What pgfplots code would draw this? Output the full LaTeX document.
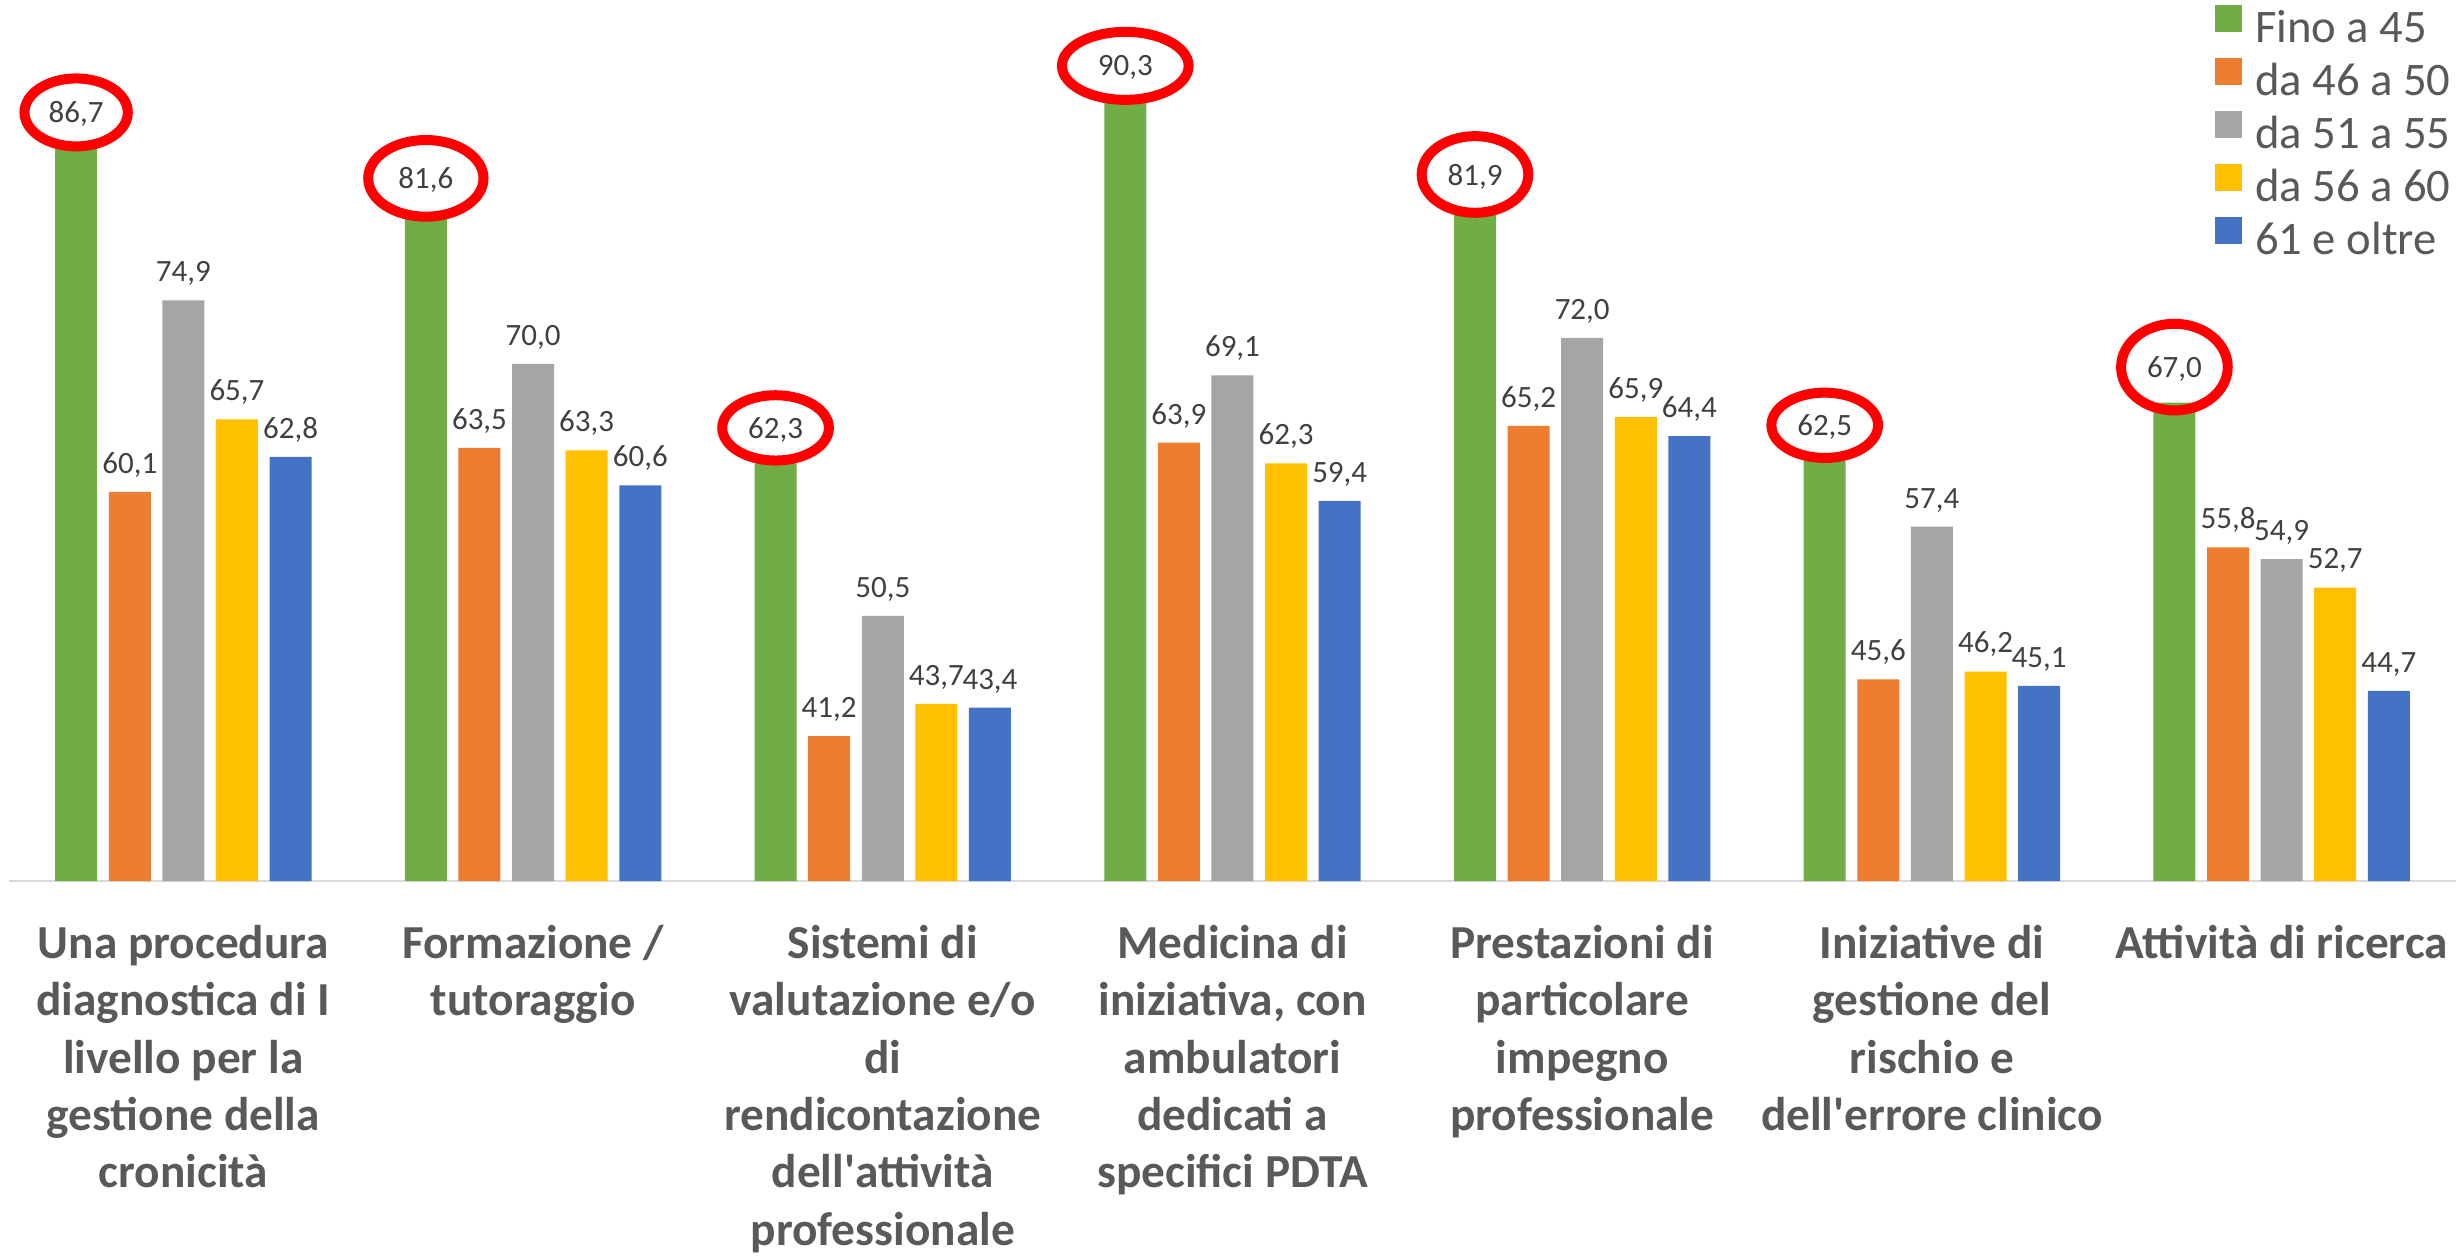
\documentclass[border=0pt]{standalone}
\usepackage{pgfplots}
\pgfplotsset{compat=1.18}
\usepackage{fontspec}
\setmainfont{Carlito}
\usetikzlibrary{shapes.geometric}
\definecolor{cgreen}{HTML}{70AD47}
\definecolor{corange}{HTML}{ED7D31}
\definecolor{cgray}{HTML}{A5A5A5}
\definecolor{cyellow}{HTML}{FFC000}
\definecolor{cblue}{HTML}{4472C4}
\definecolor{txt}{HTML}{595959}
\definecolor{lbl}{HTML}{404040}
\definecolor{axisl}{HTML}{D9D9D9}
\pgfplotstableread{
x y w h
0 86.7 31 20.4
1 81.6 34.6 23
2 62.3 32 19.6
3 90.3 38 20.4
4 81.9 32 23
5 62.5 32 19.6
6 67.0 32 26
}\tgreen
\begin{document}
\begin{tikzpicture}
\path[use as bounding box] (0,0) rectangle (737.4pt,378pt);
\begin{axis}[
  at={(2.55pt,113.7pt)}, anchor=south west,
  scale only axis, width=734.4pt, height=264.3pt,
  xmin=-0.5, xmax=6.5, ymin=30, ymax=98.14,
  ybar, bar width=12.6pt,
  axis x line*=bottom, axis y line=none,
  x axis line style={draw=axisl, line width=0.6pt, -},
  xtick={0,1,2,3,4,5,6}, major tick length=0pt,
  xticklabels={
    {\strut Una procedura\\diagnostica di I\\livello per la\\gestione della\\cronicità},
    {\strut Formazione /\\tutoraggio},
    {\strut Sistemi di\\valutazione e/o\\di\\rendicontazione\\dell\textquotesingle attività\\professionale},
    {\strut Medicina di\\iniziativa, con\\ambulatori\\dedicati a\\specifici PDTA},
    {\strut Prestazioni di\\particolare\\impegno\\professionale},
    {\strut Iniziative di\\gestione del\\rischio e\\dell\textquotesingle errore clinico},
    {\strut Attività di ricerca}},
  xticklabel style={font=\fontsize{14.2}{17.2}\selectfont\bfseries, text=txt, align=center, anchor=north, yshift=-10.96pt, inner sep=0pt},
  nodes near coords={\pgfmathprintnumber[fixed,fixed zerofill,precision=1,use comma,assume math mode=true]{\pgfplotspointmeta}},
  every node near coord/.append style={font=\fontsize{9.3}{11}\selectfont, text=lbl, anchor=south, inner sep=0pt, outer sep=0pt, text depth=0pt, yshift=5.6pt},
  legend style={at={(axis description cs:0.9014,1)}, anchor=north west, yshift=-1.6pt, draw=none, fill=none, inner sep=0pt, outer sep=0pt, row sep=0pt,
    font=\fontsize{14}{16}\selectfont, text=txt,
    nodes={inner xsep=3.9pt, inner ysep=0pt, text height=11pt, text depth=4.6pt}},
  legend cell align=left,
  legend image code/.code={\fill[#1] (0pt,0pt) rectangle (8.1pt,8.1pt);},
]
\addplot[fill=cgreen, draw=none, bar shift=-32.16pt,
  visualization depends on={\thisrow{w} \as \ew},
  visualization depends on={\thisrow{h} \as \eh},
  every node near coord/.append style={ellipse, draw=red, line width=3pt, minimum width=\ew pt, minimum height=\eh pt, yshift=5.05pt-0.5*\eh pt}
  ] table[x=x,y=y] {\tgreen};
\addplot[fill=corange, draw=none, bar shift=-16.08pt] coordinates {(0,60.1) (1,63.5) (2,41.2) (3,63.9) (4,65.2) (5,45.6) (6,55.8)};
\addplot[fill=cgray, draw=none, bar shift=0pt] coordinates {(0,74.9) (1,70.0) (2,50.5) (3,69.1) (4,72.0) (5,57.4) (6,54.9)};
\addplot[fill=cyellow, draw=none, bar shift=16.08pt] coordinates {(0,65.7) (1,63.3) (2,43.7) (3,62.3) (4,65.9) (5,46.2) (6,52.7)};
\addplot[fill=cblue, draw=none, bar shift=32.16pt] coordinates {(0,62.8) (1,60.6) (2,43.4) (3,59.4) (4,64.4) (5,45.1) (6,44.7)};
\legend{Fino a 45, da 46 a 50, da 51 a 55, da 56 a 60, 61 e oltre}
\end{axis}
\end{tikzpicture}
\end{document}
